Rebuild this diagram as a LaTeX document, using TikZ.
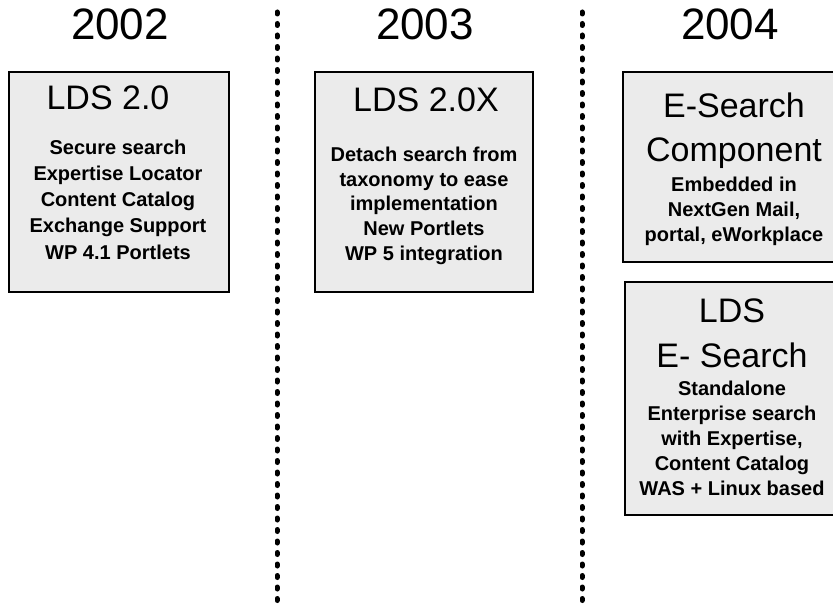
\documentclass[tikz,border=0pt]{standalone}
\usepackage{fontspec}
\setmainfont{Liberation Sans}
\begin{document}
\begin{tikzpicture}[x=1bp,y=-1bp,
  box/.style={draw=black,line width=1.6bp,fill=boxgray,inner sep=0pt},
  year/.style={font=\fontsize{44bp}{50bp}\selectfont,anchor=base,inner sep=0pt},
  ttl/.style={font=\fontsize{34bp}{44bp}\selectfont,anchor=base,inner sep=0pt,align=center},
  body/.style={font=\fontsize{20bp}{26bp}\selectfont\bfseries,anchor=base,inner sep=0pt,align=center}]
\definecolor{boxgray}{HTML}{EBEBEB}
\tikzset{sepline/.style={line width=5bp,line cap=round,dash pattern=on 2bp off 9.5bp}}
\useasboundingbox (0,0) rectangle (833,606);
% separators
\coordinate (s1t) at (277,12);
\coordinate (s1b) at (277,606);
\coordinate (s2t) at (582,12);
\coordinate (s2b) at (582,606);
\draw[sepline] (s1t) -- (s1b);
\draw[sepline] (s2t) -- (s2b);
% years
\node[year] (y1) at (120,40) {2002};
\node[year] (y2) at (425,40) {2003};
\node[year] (y3) at (730,40) {2004};
% boxes
\node[box,minimum width=220bp,minimum height=220bp] (b1) at (119,182) {};
\node[box,minimum width=218bp,minimum height=220bp] (b2) at (424,182) {};
\node[box,minimum width=222bp,minimum height=190bp] (b3) at (734,167) {};
\node[box,minimum width=214bp,minimum height=233bp] (b4) at (732,398.5) {};
% box 1
\node[ttl] (t1) at (108,110) {LDS 2.0};
\node[body] (d1) at (118,259) {Secure search\\Expertise Locator\\Content Catalog\\Exchange Support\\WP 4.1 Portlets};
% box 2
\node[ttl] (t2) at (426,112) {LDS 2.0X};
\node[body,font=\fontsize{20bp}{24.5bp}\selectfont\bfseries] (d2) at (424,260) {Detach search from\\taxonomy to ease\\implementation\\New Portlets\\WP 5 integration};
% box 3
\node[ttl] (t3) at (734,162) {E-Search\\Component};
\node[body,font=\fontsize{20bp}{25bp}\selectfont\bfseries] (d3) at (734,242) {Embedded in\\NextGen Mail,\\portal, eWorkplace};
% box 4
\node[ttl,font=\fontsize{34bp}{45bp}\selectfont] (t4) at (732,367) {LDS\\E- Search};
\node[body,font=\fontsize{20bp}{25bp}\selectfont\bfseries] (d4) at (732,495) {Standalone\\Enterprise search\\with Expertise,\\Content Catalog\\WAS + Linux based};
\end{tikzpicture}
\end{document}
